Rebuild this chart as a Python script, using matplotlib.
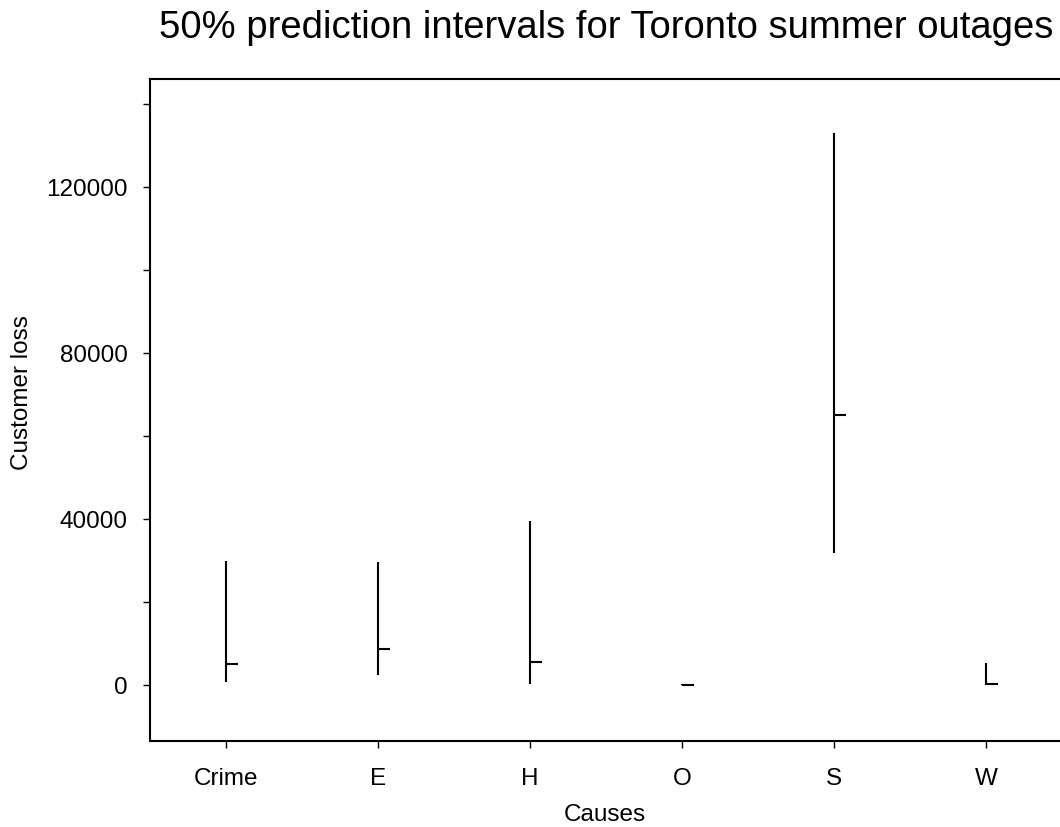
import matplotlib.pyplot as plt

# 50% prediction intervals by outage cause
causes = ['Crime', 'E', 'H', 'O', 'S', 'W']
lower = [650, 2400, 250, 0, 31800, 0]
median = [5100, 8700, 5500, 0, 65100, 200]
upper = [29800, 29700, 39500, 150, 132900, 5300]

plt.rcParams['font.family'] = ['Liberation Sans', 'DejaVu Sans']

fig = plt.figure(figsize=(10.6, 8.28), dpi=100)
ax = fig.add_axes([150 / 1060, 86 / 828, 912 / 1060, 662 / 828])

xs = range(1, len(causes) + 1)
for x, lo, med, hi in zip(xs, lower, median, upper):
    ax.plot([x, x], [lo, hi], color='black', lw=1.5, solid_capstyle='butt')
    ax.plot([x, x + 0.08], [med, med], color='black', lw=1.5, solid_capstyle='butt')

ax.set_xlim(0.5, 6.5)
ax.set_ylim(-13500, 146000)

ax.set_xticks(list(xs))
ax.set_xticklabels(causes)
yt = list(range(0, 140001, 20000))
ax.set_yticks(yt)
ax.set_yticklabels([str(v) if v % 40000 == 0 else '' for v in yt])
ax.tick_params(direction='out', length=5, width=1, labelsize=17.5, colors='black')
ax.tick_params(axis='y', pad=11)
ax.tick_params(axis='x', pad=14)

for sp in ax.spines.values():
    sp.set_linewidth(1.5)

fig.text(606 / 1060, 1 - 28 / 828, '50% prediction intervals for Toronto summer outages',
         ha='center', va='center', fontsize=27.5)
fig.text(605 / 1060, 1 - 815 / 828, 'Causes', ha='center', va='center', fontsize=17.5)
fig.text(22 / 1060, 1 - 393 / 828, 'Customer loss', ha='center', va='center',
         rotation=90, fontsize=17.5)

fig.savefig('out.png', dpi=100)
